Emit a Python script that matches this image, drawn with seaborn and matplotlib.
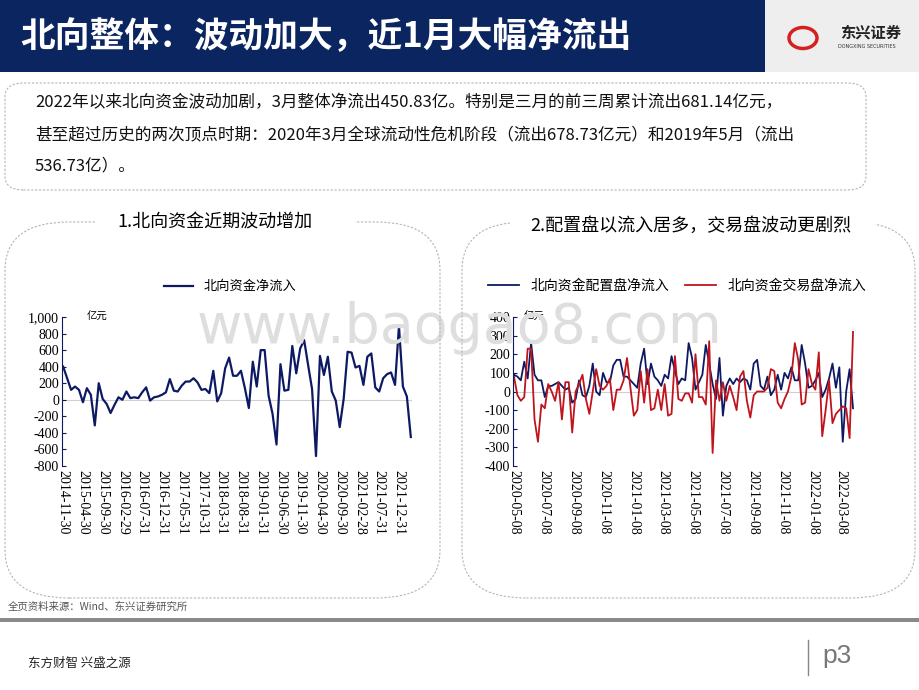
import numpy as np
import pandas as pd
import matplotlib
matplotlib.use("Agg")
import matplotlib.pyplot as plt
import seaborn as sns
from matplotlib.patches import FancyBboxPatch, Rectangle

# ---- data ----
north_total = [
    400, 260,  # 2014
    120, 160, 120, -30, 140, 60, -310, 200, 10, -50, -160, -60,  # 2015
    30, 0, 100, 20, 30, 20, 90, 150, -10, 30, 40, 60,  # 2016
    90, 250, 110, 100, 170, 220, 220, 260, 210, 120, 130, 80,  # 2017
    350, -20, 80, 380, 510, 290, 290, 350, 140, -100, 460, 160,  # 2018
    600, 600, 50, -170, -540, 430, 110, 120, 650, 320, 620, 720,  # 2019
    420, 130, -680, 530, 300, 520, 100, -10, -330, 10, 580, 570,  # 2020
    390, 410, 180, 520, 560, 150, 100, 260, 310, 330, 180, 890,  # 2021
    160, 40, -450,  # 2022
]
left_ticks = ["2014-11-30", "2015-04-30", "2015-09-30", "2016-02-29", "2016-07-31",
              "2016-12-31", "2017-05-31", "2017-10-31", "2018-03-31", "2018-08-31",
              "2019-01-31", "2019-06-30", "2019-11-30", "2020-04-30", "2020-09-30",
              "2021-02-28", "2021-07-31", "2021-12-31"]

alloc = [-10, 50, 90, 80, 60, 160, 70, 260, 90, 60, 60, -30, 30, 30, 40, 50, 30, 10, 20, -60,
         -40, 60, -20, -30, 30, 150, 0, -20, 100, 50, 50, 140, 170, 170, 80, 80, 60, 40, 20, 150,
         230, 40, 150, 80, 60, 30, 90, 70, 190, 110, 40, 70, 60, 260, 180, 10, 50, 90, 250, 150,
         40, -40, 180, -130, 30, 70, 40, 70, 50, 70, 60, 10, 150, 170, 30, 10, 80, -20, 10, 90,
         10, 100, 70, 130, 60, 60, 250, 150, 20, 30, 60, 100, -30, 10, 70, 150, 20, 130, -270, 0,
         120, -90]
trade = [50, -10, -10, 40, 80, 80, -20, -50, -30, 230, 230, -150, -270, -70, -90, 40, 0, -50, 50, -150,
         50, 50, -220, 0, 40, 90, -40, -120, 0, 120, 30, 10, 30, 70, -100, 10, 10, 60, 180, 20,
         -130, -100, 110, -60, 120, -100, -90, 10, -100, 40, -130, -120, 190, -40, -50, -10, -10, -60, 200, -30,
         -30, -70, 270, -330, 60, -50, 50, -50, 30, -30, -100, 80, 110, -50, -140, -20, 0, 0, 0, 20,
         120, 110, -60, -90, -40, 0, 80, 260, 170, -70, -60, 120, 40, 10, 210, -240, -100, 60, -170, -120,
         -100, -80, -90, -250, 320]
right_ticks = ["2020-05-08", "2020-07-08", "2020-09-08", "2020-11-08", "2021-01-08", "2021-03-08",
               "2021-05-08", "2021-07-08", "2021-09-08", "2021-11-08", "2022-01-08", "2022-03-08"]

NAVY = "#0d1a63"
RED = "#c0141c"
CJK = "Noto Sans CJK SC"
SERIF = "Liberation Serif"

fig = plt.figure(figsize=(9.2, 6.9), dpi=100)
fig.patch.set_facecolor("white")

def px(x, y):
    return x / 920, 1 - y / 690

# header
fig.patches.append(Rectangle(px(0, 72), 765 / 920, 72 / 690, transform=fig.transFigure,
                             facecolor="#0b2560", edgecolor="none"))
fig.patches.append(Rectangle(px(765, 72), 155 / 920, 72 / 690, transform=fig.transFigure,
                             facecolor="#eeeeee", edgecolor="none"))
fig.text(*px(20, 37), "北向整体：波动加大，近1月大幅净流出", fontfamily=CJK, fontweight="bold",
         fontsize=25, color="white", va="center")
fig.text(*px(840, 33), "东兴证券", fontfamily=CJK, fontweight="bold", fontsize=11,
         color="#222222", va="center")
fig.text(*px(838, 47), "DONGXING SECURITIES", fontsize=3.5, color="#333333", va="center")
fig.patches.append(matplotlib.patches.Circle(px(803, 38), 14 / 920, transform=fig.transFigure,
                                             facecolor="none", edgecolor="#d62020", linewidth=2.5))

def dbox(x0, y0, x1, y1, r=0.02):
    fig.patches.append(FancyBboxPatch(px(x0, y1), (x1 - x0) / 920, (y1 - y0) / 690,
                                      boxstyle=f"round,pad=0,rounding_size={r}",
                                      transform=fig.transFigure, facecolor="none",
                                      edgecolor="#b5b5b5", linestyle=(0, (2, 1.5)), linewidth=0.8))

dbox(5, 83, 866, 190)
fig.text(*px(35, 103), "2022年以来北向资金波动加剧，3月整体净流出450.83亿。特别是三月的前三周累计流出681.14亿元，",
         fontfamily=CJK, fontsize=12, va="center", color="#111111")
fig.text(*px(35, 135), "甚至超过历史的两次顶点时期：2020年3月全球流动性危机阶段（流出678.73亿元）和2019年5月（流出",
         fontfamily=CJK, fontsize=12, va="center", color="#111111")
fig.text(*px(35, 166), "536.73亿）。", fontfamily=CJK, fontsize=12, va="center", color="#111111")

dbox(5, 222, 440, 598, r=0.07)
dbox(462, 222, 915, 598, r=0.07)
fig.patches.append(Rectangle(px(95, 230), 260 / 920, 16 / 690, transform=fig.transFigure,
                             facecolor="white", edgecolor="none"))
fig.patches.append(Rectangle(px(510, 230), 365 / 920, 16 / 690, transform=fig.transFigure,
                             facecolor="white", edgecolor="none"))
fig.text(*px(215, 223), "1.北向资金近期波动增加", fontfamily=CJK, fontsize=13, ha="center", va="center")
fig.text(*px(691, 226), "2.配置盘以流入居多，交易盘波动更剧烈", fontfamily=CJK, fontsize=13,
         ha="center", va="center")

# watermark
fig.text(*px(460, 328), "www.baogao8.com", fontsize=40, color="#dedede", ha="center",
         va="center", zorder=0)

def style(ax, ymin, ymax, step):
    ax.set_facecolor("none")
    for s in ["top", "right", "bottom"]:
        ax.spines[s].set_visible(False)
    ax.spines["left"].set_color(NAVY)
    ax.axhline(0, color="#d0d0d0", linewidth=0.8, zorder=0)
    ax.set_ylim(ymin, ymax)
    yt = np.arange(ymin, ymax + 1, step)
    ax.set_yticks(yt)
    ax.set_yticklabels([f"{v:,}" for v in yt], fontfamily=SERIF, fontsize=10)
    ax.tick_params(axis="y", direction="in", length=3, color=NAVY, pad=2)
    ax.tick_params(axis="x", length=0, pad=3)
    ax.set_xlabel("")
    ax.set_ylabel("")

# left chart
ax1 = fig.add_axes([62 / 920, 1 - 466 / 690, 350 / 920, 149 / 690])
dl = pd.DataFrame({"x": np.arange(len(north_total)), "v": north_total})
sns.lineplot(data=dl, x="x", y="v", ax=ax1, color=NAVY, linewidth=1.6, label="北向资金净流入")
style(ax1, -800, 1000, 200)
ax1.set_xlim(-0.3, len(north_total) - 0.7)
ax1.set_xticks(np.arange(0, len(north_total), 5))
ax1.set_xticklabels(left_ticks, rotation=270, fontfamily=SERIF, fontsize=10)
ax1.text(0.07, 1.0, "亿元", transform=ax1.transAxes, fontfamily=CJK, fontsize=7.5, va="center")
ax1.legend(loc="lower center", bbox_to_anchor=(0.48, 1.08), frameon=False,
           prop={"family": CJK, "size": 9.5}, handlelength=2.2)

# right chart
ax2 = fig.add_axes([513 / 920, 1 - 466 / 690, 342 / 920, 149 / 690])
end = pd.Timestamp("2022-04-01")
da = pd.DataFrame({"d": pd.date_range(end=end, periods=len(alloc), freq="7D"), "v": alloc})
dt = pd.DataFrame({"d": pd.date_range(end=end, periods=len(trade), freq="7D"), "v": trade})
sns.lineplot(data=da, x="d", y="v", ax=ax2, color=NAVY, linewidth=1.3, label="北向资金配置盘净流入")
sns.lineplot(data=dt, x="d", y="v", ax=ax2, color=RED, linewidth=1.3, label="北向资金交易盘净流入")
style(ax2, -400, 400, 100)
tdates = pd.to_datetime(right_ticks)
ax2.set_xlim(pd.Timestamp("2020-05-06"), pd.Timestamp("2022-04-05"))
ax2.set_xticks(tdates)
ax2.set_xticklabels(right_ticks, rotation=270, fontfamily=SERIF, fontsize=10)
ax2.text(0.03, 1.0, "亿元", transform=ax2.transAxes, fontfamily=CJK, fontsize=7.5, va="center")
ax2.legend(loc="lower center", bbox_to_anchor=(0.48, 1.08), frameon=False, ncol=2,
           prop={"family": CJK, "size": 10}, handlelength=2.2, columnspacing=1.2)

# footer
fig.text(*px(8, 607), "全页资料来源：Wind、东兴证券研究所", fontfamily=CJK, fontsize=7.5,
         color="#555555", va="center")
fig.patches.append(Rectangle(px(0, 622), 1, 4 / 690, transform=fig.transFigure,
                             facecolor="#8a8a8a", edgecolor="none"))
fig.text(*px(28, 663), "东方财智 兴盛之源", fontfamily=CJK, fontsize=9, color="#222222", va="center")
fig.lines.append(matplotlib.lines.Line2D([808 / 920, 808 / 920], [1 - 640 / 690, 1 - 675 / 690],
                                         transform=fig.transFigure, color="#888888", linewidth=1))
fig.text(*px(822, 656), "p3", fontfamily="Liberation Sans", fontsize=19, color="#777777", va="center")

fig.savefig("out.png", dpi=100)
